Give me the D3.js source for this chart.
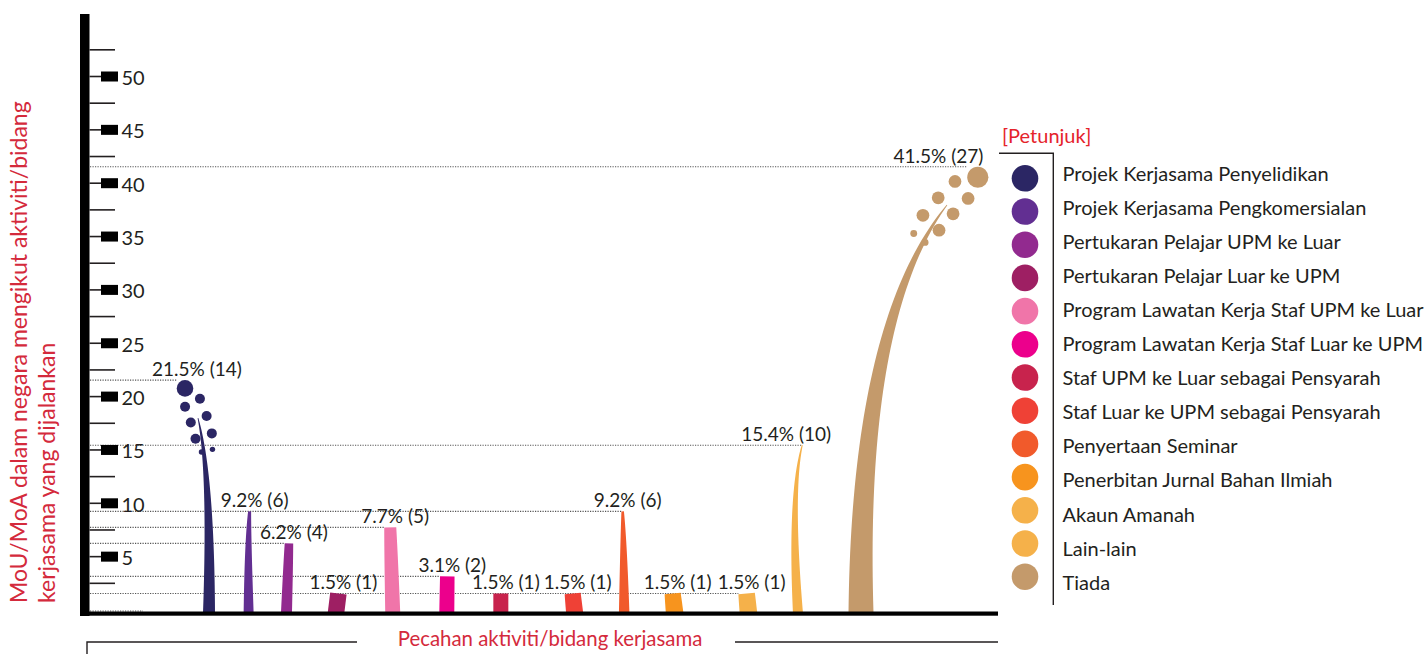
<!DOCTYPE html>
<html><head><meta charset="utf-8">
<script src="https://cdn.jsdelivr.net/npm/d3@7"></script>
<style>html,body{margin:0;padding:0;background:#fff;}svg{display:block;font-family:Lato,"Open Sans",sans-serif;}</style>
</head><body><svg id="c" width="1424" height="654"></svg>
<script>
// ---------------- data ----------------
const categories = [
  "Projek Kerjasama Penyelidikan",
  "Projek Kerjasama Pengkomersialan",
  "Pertukaran Pelajar UPM ke Luar",
  "Pertukaran Pelajar Luar ke UPM",
  "Program Lawatan Kerja Staf UPM ke Luar",
  "Program Lawatan Kerja Staf Luar ke UPM",
  "Staf UPM ke Luar sebagai Pensyarah",
  "Staf Luar ke UPM sebagai Pensyarah",
  "Penyertaan Seminar",
  "Penerbitan Jurnal Bahan Ilmiah",
  "Akaun Amanah",
  "Lain-lain",
  "Tiada"
];
const percentages = [21.5, 9.2, 6.2, 1.5, 7.7, 3.1, 1.5, 1.5, 9.2, 1.5, 1.5, 15.4, 41.5];
const counts = [14, 6, 4, 1, 5, 2, 1, 1, 6, 1, 1, 10, 27];
const colors = ["#2b2664","#622f92","#922a8f","#9e1f63","#f075a9","#ec008c","#c8234d",
                "#ef4136","#f15a2b","#f7941e","#f5b14a","#f5b14a","#c49a6b"];
const yTicks = [5, 10, 15, 20, 25, 30, 35, 40, 45, 50];
const yMinorTicks = [2.5, 7.5, 12.5, 17.5, 22.5, 27.5, 32.5, 37.5, 42.5, 47.5, 52.5];
const yTitleLines = ["MoU/MoA dalam negara mengikut aktiviti/bidang", "kerjasama yang dijalankan"];
const xTitle = "Pecahan aktiviti/bidang kerjasama";
const legendTitle = "[Petunjuk]";

// ---------------- style (shape of each stem) ----------------
const stemStyle = [
  {wb:12,   wt:0.8,  lean:-11,  bend:10},
  {wb:10,   wt:3,    lean:1,    bend:-1.5},
  {wb:11,   wt:8.5,  lean:2.5,  bend:0},
  {wb:16.5, wt:16.5, lean:2.4,  bend:0},
  {wb:15,   wt:12,   lean:-2.5, bend:0},
  {wb:15,   wt:14.5, lean:0.5,  bend:0},
  {wb:15,   wt:15,   lean:0,    bend:0},
  {wb:17,   wt:16,   lean:-2,   bend:0},
  {wb:10.5, wt:2.5,  lean:-1.5, bend:0.5},
  {wb:17.5, wt:16,   lean:-2,   bend:0},
  {wb:17.5, wt:16.5, lean:-1.8, bend:0},
  {wb:10,   wt:1,    lean:4.3,  bend:-11},
  {wb:25,   wt:0.8,  lean:86,   bend:-65}
];
// bubble spray around the stem tip: [along, side, radius]
const bubblePattern = [[32,5.7,8.3],[18.4,-6.4,5],[14.2,9.9,5],[0.2,-8.9,5],[-2.5,8,5],
                       [-18,-9.9,5],[-19.4,7.2,5],[-33.7,-6.8,2.7],[-33.7,4.5,2.7]];

const INK = "#231f20", RED = "#d42a3c", LABEL_SIZE = 19;
const svg = d3.select("#c");
const y = d3.scaleLinear().domain([0, 50]).range([609.5, 76]);
const labelText = i => `${percentages[i]}% (${counts[i]})`;

// x layout: neighbours whose value labels sit on the same row get room for both labels;
// the remaining span is shared by the other gaps in proportion to the two stems' widths.
const tmp = svg.append("text").attr("font-size", LABEL_SIZE);
const lw = categories.map((c, i) => { tmp.text(labelText(i)); return tmp.node().getComputedTextLength(); });
tmp.remove();
const span = d3.scaleLinear().range([209, 861]);
const need = categories.map((c, i) => i === 0 ? 0 :
  (Math.abs(y(percentages[i]) - y(percentages[i - 1])) < 15 ? (lw[i - 1] + lw[i]) / 2 + 6 : null));
const weight = categories.map((c, i) => i === 0 || need[i] !== null ? 0 : stemStyle[i - 1].wb + stemStyle[i].wb);
const fixed = d3.sum(need.filter(d => d !== null));
const perW = (span.range()[1] - span.range()[0] - fixed) / d3.sum(weight);
const cum = d3.cumsum(need.map((d, i) => i === 0 ? 0 : (d === null ? weight[i] * perW : d)));
span.domain([0, cum[cum.length - 1]]);
const x = d3.scaleOrdinal().domain(categories).range(Array.from(cum, c => span(c)));
const baseY = 613;

function geom(i) {
  const st = stemStyle[i], v = percentages[i];
  const P0 = {x: x(categories[i]), y: baseY};
  const bub = v > 20;
  const s = bub ? Math.pow(v / 21.5, 0.37) : 1;
  const m = Math.sign(st.lean) || 1;
  let tipY = y(v), P2, C, u, n;
  const calc = () => {
    P2 = {x: P0.x + st.lean, y: tipY};
    C = {x: P0.x + 0.72 * (P2.x - P0.x) + st.bend, y: P0.y + 0.72 * (P2.y - P0.y)};
    const dx = P2.x - C.x, dy = P2.y - C.y, l = Math.hypot(dx, dy);
    u = {x: dx / l, y: dy / l};
    n = {x: -u.y, y: u.x};
  };
  calc();
  let bubbles = [];
  if (bub) {
    for (let k = 0; k < 5; k++) {
      const big = bubblePattern[0];
      tipY = y(v) + big[2] * s - s * (big[0] * u.y + big[1] * m * n.y);
      calc();
    }
    bubbles = bubblePattern.map(p => ({
      x: P2.x + s * (p[0] * u.x + p[1] * m * n.x),
      y: P2.y + s * (p[0] * u.y + p[1] * m * n.y),
      r: p[2] * s
    }));
  }
  const N = 48, L = [], R = [];
  for (let k = 0; k <= N; k++) {
    const t = k / N, a = (1 - t) * (1 - t), b = 2 * t * (1 - t), c = t * t;
    const bx = a * P0.x + b * C.x + c * P2.x, by = a * P0.y + b * C.y + c * P2.y;
    const dx = 2 * (1 - t) * (C.x - P0.x) + 2 * t * (P2.x - C.x);
    const dy = 2 * (1 - t) * (C.y - P0.y) + 2 * t * (P2.y - C.y);
    const l = Math.hypot(dx, dy), nx = -dy / l, ny = dx / l;
    const w = st.wb + (st.wt - st.wb) * t;
    L.push([bx - nx * w / 2, by - ny * w / 2]);
    R.push([bx + nx * w / 2, by + ny * w / 2]);
  }
  const pts = L.concat(R.reverse());
  const big = bubbles[0];
  const endX = bub ? big.x - big.r : P2.x - st.wt / 2;
  let label;
  if (bub) label = m > 0 ? {x: big.x + big.r - 5, anchor: "end"} : {x: big.x + 12, anchor: "middle"};
  else if (v > 12) label = {x: P2.x - 16, anchor: "middle"};
  else label = {x: P2.x + 5, anchor: "middle"};
  return {i, v, pts, bubbles, endX, label};
}
const G = categories.map((c, i) => geom(i));

// dotted guide lines: one per distinct value, reaching the right-most bar of that value
const byVal = d3.rollup(G, g => d3.max(g, d => d.endX), d => d.v);
const guides = Array.from(byVal, ([v, e]) => ({v, e}));
guides.push({v: 0, e: x(categories[0]) - 66});
svg.append("g").selectAll("line").data(guides).join("line")
  .attr("x1", 90).attr("x2", d => d.e)
  .attr("y1", d => y(d.v) + (d.v === 0 ? 1.5 : 0)).attr("y2", d => y(d.v) + (d.v === 0 ? 1.5 : 0))
  .attr("stroke", "#555").attr("stroke-width", 1.1).attr("stroke-dasharray", "1.2,1.3");

// stems
svg.append("g").selectAll("path").data(G).join("path")
  .attr("d", d => d3.line()(d.pts) + "Z")
  .attr("fill", d => colors[d.i]);
// bubbles
svg.append("g").selectAll("g").data(G.filter(d => d.bubbles.length)).join("g")
  .attr("fill", d => colors[d.i])
  .selectAll("circle").data(d => d.bubbles).join("circle")
  .attr("cx", b => b.x).attr("cy", b => b.y).attr("r", b => b.r);

// value labels
svg.append("g").selectAll("text").data(G).join("text")
  .attr("x", d => d.label.x).attr("y", d => y(d.v) - 4)
  .attr("text-anchor", d => d.label.anchor)
  .attr("font-size", LABEL_SIZE).attr("fill", INK)
  .text(d => labelText(d.i));

// axes frame
svg.append("rect").attr("x", 80).attr("y", 14).attr("width", 9.5).attr("height", 602).attr("fill", "#000");
svg.append("rect").attr("x", 80).attr("y", 611.5).attr("width", 918).attr("height", 4.2).attr("fill", "#000");

const minorG = svg.append("g").attr("transform", "translate(89.5,0)")
  .call(d3.axisRight(y).tickValues(yMinorTicks).tickSize(25.5).tickFormat(""));
const majorG = svg.append("g").attr("transform", "translate(89.5,0)")
  .call(d3.axisRight(y).tickValues(yTicks).tickSize(12).tickPadding(20).tickFormat(d => d));
[minorG, majorG].forEach(g => {
  g.select(".domain").remove();
  g.selectAll("line").attr("stroke", INK).attr("stroke-width", 1.6);
});
majorG.selectAll("text").attr("font-family", "Lato, sans-serif").attr("font-size", 20)
  .attr("fill", INK).attr("dy", "0.42em");
majorG.selectAll(".tick").append("rect").attr("x", 11.5).attr("y", -5).attr("width", 17).attr("height", 10).attr("fill", "#000");

// y title
svg.append("g").selectAll("text").data(yTitleLines).join("text")
  .attr("transform", (d, k) => `translate(${27 + k * 28},603) rotate(-90)`)
  .attr("font-size", 23).attr("fill", RED).text(d => d);

// x title with bracket
svg.append("text").attr("x", 550).attr("y", 646).attr("text-anchor", "middle")
  .attr("font-size", 20.4).attr("fill", RED).text(xTitle);
svg.append("path").attr("d", "M87,654V642H357M735,642H998")
  .attr("fill", "none").attr("stroke", INK).attr("stroke-width", 1.4);

// legend
const ly = d3.scalePoint().domain(categories).range([178.3, 576.7]);
const lt = d3.scalePoint().domain(categories).range([173.5, 582.7]);
svg.append("text").attr("x", 1002).attr("y", 143).attr("font-size", 20).attr("fill", "#e5232b").text(legendTitle);
svg.append("path").attr("d", "M999,153.3H1053.3V605").attr("fill", "none").attr("stroke", INK).attr("stroke-width", 1.4);
const lg = svg.append("g");
lg.selectAll("circle").data(categories).join("circle")
  .attr("cx", 1025).attr("cy", d => ly(d)).attr("r", 13.3).attr("fill", (d, k) => colors[k]);
lg.selectAll("text").data(categories).join("text")
  .attr("x", 1062.5).attr("y", d => lt(d) + 7).attr("font-size", 20).attr("fill", INK).text(d => d);
</script></body></html>
